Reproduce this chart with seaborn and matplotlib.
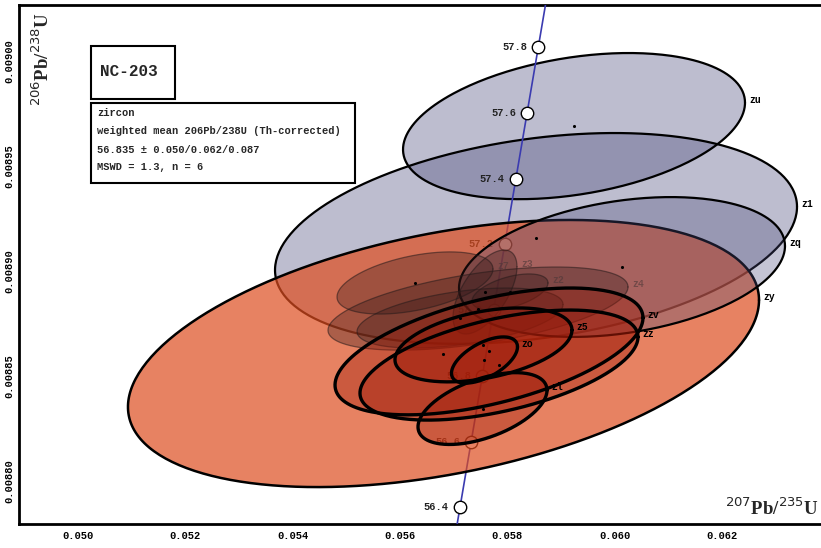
import numpy as np
import pandas as pd
import matplotlib
matplotlib.use("Agg")
import matplotlib.pyplot as plt
from matplotlib.patches import Rectangle
import seaborn as sns

# U decay constants (1/yr)
LAMBDA_238 = 1.55125e-10
LAMBDA_235 = 9.8485e-10

sample_name = "NC-203"
summary_lines = [
    "zircon",
    "weighted mean 206Pb/238U (Th-corrected)",
    "56.835 \u00b1 0.050/0.062/0.087",
    "MSWD = 1.3, n = 6",
]

# concordia age ticks (Ma)
concordia_ages = [56.4, 56.6, 56.8, 57.0, 57.2, 57.4, 57.6, 57.8]

# single-grain analyses, listed in drawing order
fraction = ["z1", "zu", "zy", "zq", "z4", "z7", "", "z3", "z2",
            "zv", "zz", "z5", "zl", "zo"]
pb207_u235 = [0.058534, 0.059242, 0.056810, 0.060136, 0.057453, 0.056279,
              0.057118, 0.057583, 0.058049, 0.057658, 0.057844, 0.057555,
              0.057537, 0.057574]
pb207_u235_err = [0.004863, 0.003186, 0.005879, 0.003037, 0.002795, 0.001453,
                  0.001919, 0.000596, 0.000708, 0.002869, 0.002590, 0.001649,
                  0.001202, 0.000615]
pb206_u238 = [0.0089155, 0.0089690, 0.0088607, 0.0089019, 0.0088821, 0.0088943,
              0.0088776, 0.0088900, 0.0088900, 0.0088617, 0.0088552, 0.0088648,
              0.0088345, 0.0088576]
pb206_u238_err = [0.0000502, 0.0000348, 0.0000636, 0.0000333, 0.0000198,
                  0.0000148, 0.0000143, 0.0000200, 0.0000086, 0.0000302,
                  0.0000262, 0.0000176, 0.0000171, 0.0000110]
err_corr = [0.30, 0.32, 0.40, 0.30, 0.52, 0.45, 0.45, 0.60, 0.50,
            0.53, 0.51, 0.40, 0.51, 0.57]
group = ["old", "old", "mean", "old", "excl", "excl", "excl", "excl", "excl",
         "mean", "mean", "mean", "mean", "mean"]

df = pd.DataFrame({
    "fraction": fraction, "x": pb207_u235, "sx": pb207_u235_err,
    "y": pb206_u238, "sy": pb206_u238_err, "rho": err_corr, "group": group,
})

# ellipse appearance per group
styles = {
    "old":  dict(fc=(0.29, 0.29, 0.48), alpha=0.36, ec="black", lw=1.6, z=2, tc="black"),
    "excl": dict(fc=(0.20, 0.09, 0.09), alpha=0.33, ec=(0.15, 0.1, 0.1, 0.55), lw=0.9, z=6, tc=(0.3, 0.22, 0.22, 0.6)),
    "mean": dict(fc=(0.62, 0.10, 0.03), alpha=0.38, ec="black", lw=2.4, z=7, tc="black"),
}
zy_fill = dict(fc=(0.87, 0.30, 0.12), alpha=0.70, lw=1.8)
zq_fill = dict(alpha=0.32)

sns.set_theme(style="white")
plt.rcParams["font.family"] = ["Liberation Mono", "DejaVu Sans Mono"]

fig = plt.figure(figsize=(8.21, 5.48), dpi=100)
ax = fig.add_axes([19 / 821, 24 / 548, 802 / 821, 519 / 548])
ax.set_xlim(0.0489007, 0.0638439)
ax.set_ylim(0.00877952, 0.00902667)

# concordia curve
t_grid = np.linspace(55.8e6, 58.4e6, 200)
curve = pd.DataFrame({
    "x": np.expm1(LAMBDA_235 * t_grid),
    "y": np.expm1(LAMBDA_238 * t_grid),
})
sns.lineplot(data=curve, x="x", y="y", sort=False, color="#3b3bb0", lw=1.2,
             ax=ax, zorder=3)
ages = np.array(concordia_ages) * 1e6
ticks = pd.DataFrame({"x": np.expm1(LAMBDA_235 * ages),
                      "y": np.expm1(LAMBDA_238 * ages)})
sns.scatterplot(data=ticks, x="x", y="y", s=80, color="white",
                edgecolor="black", linewidth=1.0, ax=ax, zorder=3.5)
for a, (_, r) in zip(concordia_ages, ticks.iterrows()):
    ax.annotate(f"{a:.1f}", (r.x, r.y), xytext=(-8, 0),
                textcoords="offset points", ha="right", va="center",
                fontsize=7.5, fontweight="bold", color="#222222", zorder=3.5)

# error ellipses
t = np.linspace(0, 2 * np.pi, 300)
for _, r in df.iterrows():
    st = dict(styles[r.group])
    if r.fraction == "zy":
        st.update(zy_fill)
        st["z"] = 4
    if r.fraction == "zq":
        st.update(zq_fill)
        st["z"] = 4.5
    ex = r.x + r.sx * np.cos(t)
    ey = r.y + r.sy * (r.rho * np.cos(t) + np.sqrt(1 - r.rho ** 2) * np.sin(t))
    ax.fill(ex, ey, color=st["fc"], alpha=st["alpha"], lw=0, zorder=st["z"])
    ax.plot(ex, ey, color=st["ec"], lw=st["lw"], zorder=st["z"] + 0.1)
    if r.fraction:
        ax.annotate(r.fraction, (r.x + r.sx, r.y + r.rho * r.sy),
                    xytext=(3, 2), textcoords="offset points", ha="left",
                    va="center", fontsize=7, fontweight="bold",
                    color=st["tc"], zorder=9)

sns.scatterplot(data=df, x="x", y="y", s=5, color="black", linewidth=0,
                ax=ax, zorder=8)

# axes styling
for side in ["left", "bottom", "top"]:
    ax.spines[side].set_linewidth(2)
    ax.spines[side].set_color("black")
ax.spines["right"].set_visible(False)
ax.set_xticks([0.050, 0.052, 0.054, 0.056, 0.058, 0.060, 0.062])
ax.set_xticklabels(["0.050", "0.052", "0.054", "0.056", "0.058", "0.060", "0.062"])
ax.set_yticks([0.00880, 0.00885, 0.00890, 0.00895, 0.00900])
ax.set_yticklabels(["0.00880", "0.00885", "0.00890", "0.00895", "0.00900"])
ax.tick_params(axis="both", direction="in", length=7, width=1.5,
               labelsize=7.5, colors="black")
ax.tick_params(axis="x", pad=5)
ax.tick_params(axis="y", pad=3, labelrotation=90)
for lab in ax.get_xticklabels() + ax.get_yticklabels():
    lab.set_fontweight("bold")
for lab in ax.get_yticklabels():
    lab.set_va("center")
ax.set_xlabel("")
ax.set_ylabel("")

serif = ["Liberation Serif", "DejaVu Serif"]
ax.text(0.0287, 0.895, r"$^{206}$Pb/$^{238}$U", transform=ax.transAxes,
        rotation=90, ha="center", va="center", fontsize=13.5,
        fontweight="bold", family=serif, zorder=10)
ax.text(0.997, 0.030, r"$^{207}$Pb/$^{235}$U", transform=ax.transAxes,
        ha="right", va="center", fontsize=13.5, fontweight="bold",
        family=serif, zorder=10)

# sample and summary boxes
ax.add_patch(Rectangle((0.0898, 0.8189), 0.1047, 0.1021, transform=ax.transAxes,
                       fc="white", ec="black", lw=1.5, zorder=10))
ax.text(0.101, 0.871, sample_name, transform=ax.transAxes, ha="left",
        va="center", fontsize=11.5, fontweight="bold", zorder=11)
ax.add_patch(Rectangle((0.0898, 0.657), 0.329, 0.154, transform=ax.transAxes,
                       fc="white", ec="black", lw=1.5, zorder=10))
for yy, line in zip([0.792, 0.757, 0.720, 0.688], summary_lines):
    ax.text(0.0973, yy, line, transform=ax.transAxes, ha="left", va="center",
            fontsize=7.5, fontweight="bold", zorder=11)

fig.savefig("out.png", dpi=100)
